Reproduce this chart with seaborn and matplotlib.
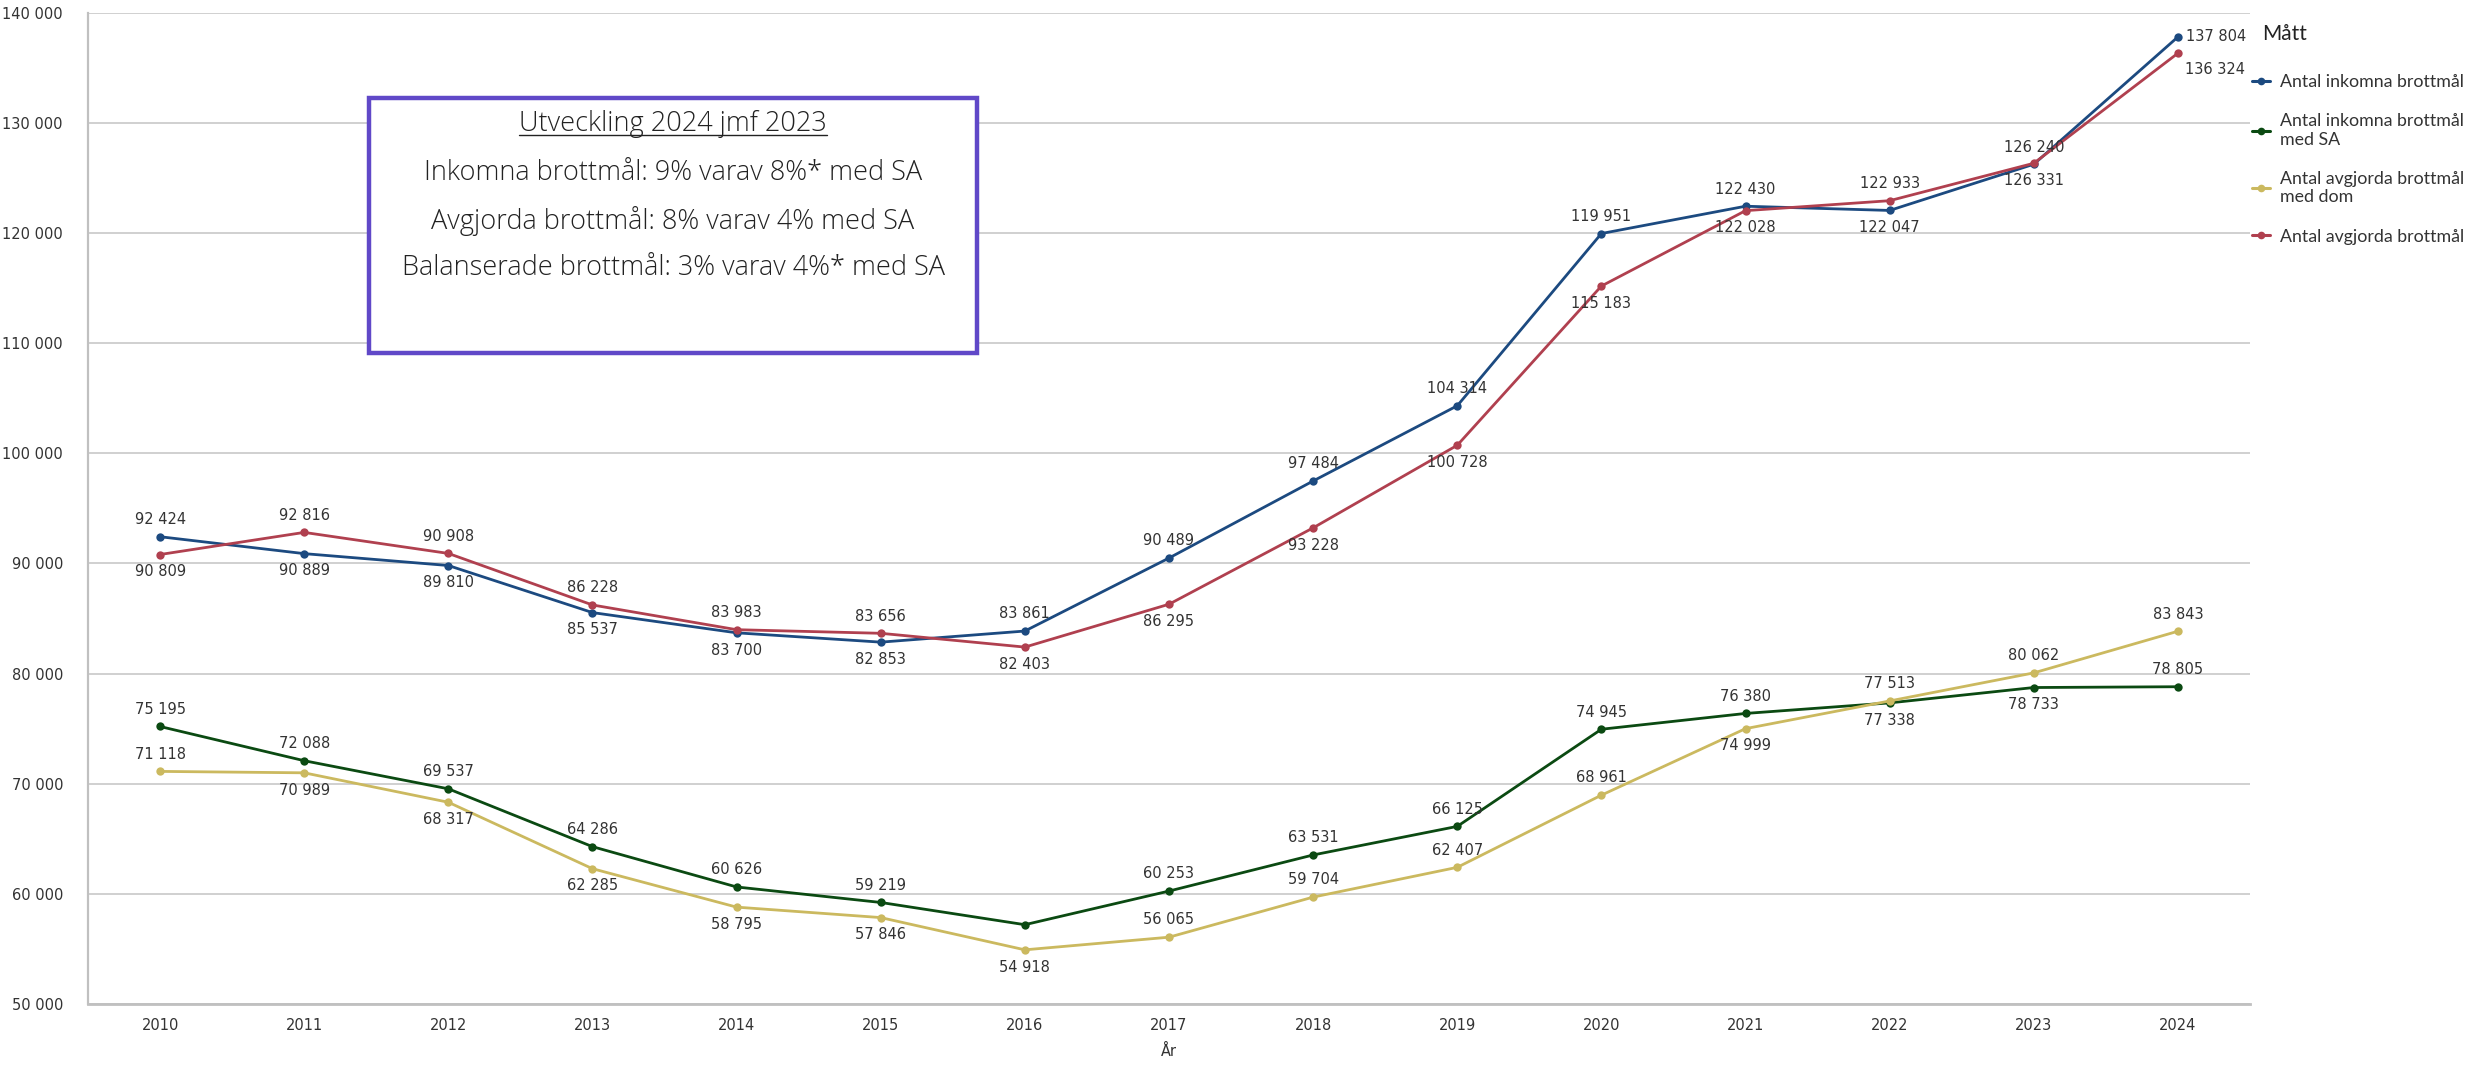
import numpy as np
import pandas as pd
import matplotlib
matplotlib.use("Agg")
import matplotlib.pyplot as plt
from matplotlib import font_manager
from matplotlib.lines import Line2D
from matplotlib.patches import Rectangle
import seaborn as sns

# ---------------- data ----------------
years = [2010, 2011, 2012, 2013, 2014, 2015, 2016, 2017, 2018, 2019, 2020, 2021, 2022, 2023, 2024]
inkomna = [92424, 90889, 89810, 85537, 83700, 82853, 83861, 90489, 97484, 104314, 119951, 122430, 122047, 126240, 137804]
inkomna_sa = [75195, 72088, 69537, 64286, 60626, 59219, 57200, 60253, 63531, 66125, 74945, 76380, 77338, 78733, 78805]
avgjorda_dom = [71118, 70989, 68317, 62285, 58795, 57846, 54918, 56065, 59704, 62407, 68961, 74999, 77513, 80062, 83843]
avgjorda = [90809, 92816, 90908, 86228, 83983, 83656, 82403, 86295, 93228, 100728, 115183, 122028, 122933, 126331, 136324]

series_names = ["Antal inkomna brottmål", "Antal inkomna brottmål med SA",
                "Antal avgjorda brottmål med dom", "Antal avgjorda brottmål"]
legend_labels = ["Antal inkomna brottmål", "Antal inkomna brottmål\nmed SA",
                 "Antal avgjorda brottmål\nmed dom", "Antal avgjorda brottmål"]
legend_title = "Mått"
y_ticks = [50000, 60000, 70000, 80000, 90000, 100000, 110000, 120000, 130000, 140000]
box_title = "Utveckling 2024 jmf 2023"
box_lines = ["Inkomna brottmål: 9% varav 8%* med SA",
             "Avgjorda brottmål: 8% varav 4% med SA",
             "Balanserade brottmål: 3% varav 4%* med SA"]

# label placement (a = above, b = below, r = right, br = below right, n = none)
place_inkomna = ["a", "b", "b", "b", "b", "b", "a", "a", "a", "a", "a", "a", "b", "a", "r"]
place_inkomna_sa = ["a", "a", "a", "a", "a", "a", "n", "a", "a", "a", "a", "a", "b", "b", "a"]
place_avgjorda_dom = ["a", "b", "b", "b", "b", "b", "b", "a", "a", "a", "a", "b", "a", "a", "a"]
place_avgjorda = ["b", "a", "a", "a", "a", "a", "b", "b", "b", "b", "b", "b", "a", "b", "br"]

colors = ["#1c4a80", "#0b4a12", "#cbb95f", "#b0404f"]

# ---------------- fonts ----------------
available = {f.name for f in font_manager.fontManager.ttflist}
if "Liberation Sans Narrow" in available:
    num_font = ["Liberation Sans Narrow", "DejaVu Sans"]
    num_size = 13
else:
    num_font = ["DejaVu Sans"]
    num_size = 10.5
text_font = ["Open Sans", "DejaVu Sans"]
leg_font = ["Lato", "DejaVu Sans"]

sns.set_style("white")
plt.rcParams["font.family"] = num_font

# ---------------- figure ----------------
fig = plt.figure(figsize=(24.84, 10.73), dpi=100)
ax = fig.add_axes([88 / 2484, 1 - 1004 / 1073, (2250 - 88) / 2484, (1004 - 12.7) / 1073])

df = pd.DataFrame({
    "År": years * 4,
    "Värde": inkomna + inkomna_sa + avgjorda_dom + avgjorda,
    "Mått": sum([[n] * len(years) for n in series_names], []),
})
sns.lineplot(data=df, x="År", y="Värde", hue="Mått", hue_order=series_names,
             palette=colors, marker="o", markersize=6, markeredgewidth=0,
             linewidth=2.0, ax=ax, legend=False)

ax.set_xlim(2009.5, 2024.5)
ax.set_ylim(50000, 140000)
ax.set_xticks(years)
ax.set_xticklabels([str(y) for y in years], fontsize=num_size, color="#333333")
ax.set_yticks(y_ticks)
ax.set_yticklabels([f"{v:,}".replace(",", " ") for v in y_ticks], fontsize=num_size, color="#333333")
ax.tick_params(axis="y", length=8, color="#c8c8c8", width=1.2, pad=10)
ax.tick_params(axis="x", length=0, pad=10)
ax.set_xlabel("År", fontsize=num_size, color="#333333", labelpad=8)
ax.set_ylabel("")
ax.grid(axis="y", color="#c8c8c8", linewidth=1.2)
ax.grid(axis="x", visible=False)
for s in ["top", "right"]:
    ax.spines[s].set_visible(False)
ax.spines["left"].set_color("#c0c0c0")
ax.spines["left"].set_linewidth(1.6)
ax.spines["bottom"].set_color("#c0c0c0")
ax.spines["bottom"].set_linewidth(2.0)

# ---------------- data labels ----------------
def fmt(v):
    return f"{v:,}".replace(",", " ")

for vals, places in [(inkomna, place_inkomna), (inkomna_sa, place_inkomna_sa),
                     (avgjorda_dom, place_avgjorda_dom), (avgjorda, place_avgjorda)]:
    for x, v, p in zip(years, vals, places):
        if p == "n":
            continue
        if p == "a":
            kw = dict(xytext=(0, 7), ha="center", va="bottom")
        elif p == "b":
            kw = dict(xytext=(0, -7), ha="center", va="top")
        elif p == "r":
            kw = dict(xytext=(6, 0), ha="left", va="center")
        else:
            kw = dict(xytext=(5, -6), ha="left", va="top")
        ax.annotate(fmt(v), (x, v), textcoords="offset points", fontsize=num_size,
                    color="#333333", **kw)

# ---------------- info box ----------------
bx0, bx1 = (369 - 88) / 2162, (977 - 88) / 2162
by0, by1 = (1004 - 353) / 991.3, (1004 - 98) / 991.3
ax.add_patch(Rectangle((bx0, by0), bx1 - bx0, by1 - by0, transform=ax.transAxes,
                       facecolor="white", edgecolor="#6048c8", linewidth=3.2, zorder=5))
cx = (bx0 + bx1) / 2
line_y_px = [124, 173, 221, 268]
tt = ax.text(cx, (1004 - line_y_px[0]) / 991.3, box_title, transform=ax.transAxes,
             ha="center", va="center", fontsize=19.5, family=text_font, fontweight="light",
             color="#222222", zorder=6)
for txt, ypx in zip(box_lines, line_y_px[1:]):
    ax.text(cx, (1004 - ypx) / 991.3, txt, transform=ax.transAxes, ha="center", va="center",
            fontsize=19.5, family=text_font, fontweight="light", color="#222222", zorder=6)

# ---------------- legend ----------------
handles = [Line2D([0], [0], color=c, marker="o", markersize=5.5, markeredgewidth=0, linewidth=2.2)
           for c in colors]
fig.text(2262 / 2484, 1 - 34 / 1073, legend_title, ha="left", va="center",
         family=leg_font, fontsize=15, color="#222222")
leg = fig.legend(handles, legend_labels,
                 loc="upper left", bbox_to_anchor=(2252 / 2484, 1 - 74 / 1073),
                 frameon=False, prop={"family": leg_font, "size": 12.8},
                 handlelength=1.0, handletextpad=0.55, labelspacing=1.3,
                 borderaxespad=0, borderpad=0)
for t in leg.get_texts():
    t.set_color("#333333")

# underline box title
fig.canvas.draw()
r = fig.canvas.get_renderer()
bb = tt.get_window_extent(renderer=r)
inv = fig.transFigure.inverted()
(x0, y0), (x1, _) = inv.transform([(bb.x0, bb.y0 + 3), (bb.x1, bb.y0 + 3)])
fig.add_artist(Line2D([x0, x1], [y0, y0], transform=fig.transFigure, color="#222222",
                      linewidth=1.0, zorder=7))

fig.savefig("out.png", dpi=100)
